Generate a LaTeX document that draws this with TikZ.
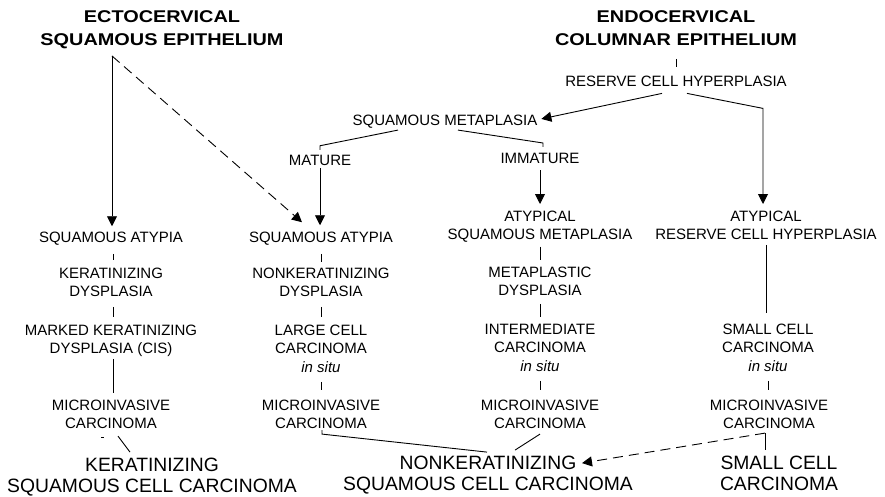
\documentclass[tikz,border=0pt]{standalone}
\usepackage{fontspec}
\setmainfont{Liberation Sans}
\newfontfamily\titlefont[FakeStretch=1.17]{Liberation Sans Bold}
\usetikzlibrary{arrows.meta,calc}
\newcommand\sts{\rule{0pt}{10.5pt}}
\newcommand\stt{\rule{0pt}{12.2pt}}
\newcommand\stb{\rule{0pt}{13.8pt}}
\tikzset{
  lbl/.style={inner sep=0pt, outer sep=0pt, anchor=north, align=center, font=\fontsize{15}{18.7}\selectfont},
  ttl/.style={inner sep=0pt, outer sep=0pt, anchor=north, align=center, font=\titlefont\fontsize{17}{23.3}\selectfont},
  big/.style={inner sep=0pt, outer sep=0pt, anchor=north, align=center, font=\fontsize{19.3}{21}\selectfont},
  conn/.style={line width=0.9pt},
  arr/.style={conn, -{Triangle[width=10pt,length=10pt]}},
  darr/.style={arr, dash pattern=on 10pt off 6pt},
}
\begin{document}
\begin{tikzpicture}[x=1pt,y=-1pt]
\fill[white] (0,0) rectangle (885,497);
\useasboundingbox (0,0) rectangle (885,497);

% titles
\node[ttl] (ecto) at (162,9.9) {\stt ECTOCERVICAL\\SQUAMOUS EPITHELIUM};
\node[ttl] (endo) at (676,9.9) {\stt ENDOCERVICAL\\COLUMNAR EPITHELIUM};

% upper labels
\node[lbl] (rch) at (676,75.75) {\sts RESERVE CELL HYPERPLASIA};
\node[lbl] (sm) at (445,114.75) {\sts SQUAMOUS METAPLASIA};
\node[lbl] (mat) at (320,154.75) {\sts MATURE};
\node[lbl] (imm) at (540,152.75) {\sts IMMATURE};

% row: atypia
\node[lbl] (sa1) at (111,231.75) {\sts SQUAMOUS ATYPIA};
\node[lbl] (sa2) at (321,231.75) {\sts SQUAMOUS ATYPIA};
\node[lbl] (asm3) at (540,210.75) {\sts ATYPICAL\\SQUAMOUS METAPLASIA};
\node[lbl] (arch4) at (766,210.75) {\sts ATYPICAL\\RESERVE CELL HYPERPLASIA};

% row: dysplasia
\node[lbl] (kd1) at (111,267.75) {\sts KERATINIZING\\DYSPLASIA};
\node[lbl] (nk2) at (321,267.75) {\sts NONKERATINIZING\\DYSPLASIA};
\node[lbl] (md3) at (540,266.75) {\sts METAPLASTIC\\DYSPLASIA};

% row: carcinoma in situ
\node[lbl] (mkd1) at (111,324.75) {\sts MARKED KERATINIZING\\DYSPLASIA (CIS)};
\node[lbl] (lc2) at (321,324.75) {\sts LARGE CELL\\CARCINOMA\\\textit{in situ}};
\node[lbl] (ic3) at (540,323.75) {\sts INTERMEDIATE\\CARCINOMA\\\textit{in situ}};
\node[lbl] (scc4) at (768,323.75) {\sts SMALL CELL\\CARCINOMA\\\textit{in situ}};

% row: microinvasive
\node[lbl] (mic1) at (111,399.75) {\sts MICROINVASIVE\\CARCINOMA};
\node[lbl] (mic2) at (321,399.75) {\sts MICROINVASIVE\\CARCINOMA};
\node[lbl] (mic3) at (540,399.75) {\sts MICROINVASIVE\\CARCINOMA};
\node[lbl] (mic4) at (769,399.75) {\sts MICROINVASIVE\\CARCINOMA};

% bottom
\node[big] (ksc) at (152,458.1) {\stb KERATINIZING\\SQUAMOUS CELL CARCINOMA};
\node[big] (nsc) at (488,456.1) {\stb NONKERATINIZING\\SQUAMOUS CELL CARCINOMA};
\node[big] (scs) at (779,456.1) {\stb SMALL CELL\\CARCINOMA};

% connectors: top
\draw[conn, shorten <=13.2pt, shorten >=8.75pt] (endo.south -| rch.north) -- (rch.north);
\draw[arr, shorten <=7.2pt, shorten >=5.5pt] ($(ecto.south -| sa1.north)+(1,0)$) -- ($(sa1.north)+(1,0)$);
\draw[darr] ($(ecto.south -| sa1.north)+(1,7.2)$) -- ($(sa2.north)+(-19,-9.5)$);
\draw[arr] ($(rch.south)+(-14,7)$) -- ($(sm.east)+(4,-2.5)$);
\coordinate (rchk) at ($(rch.south)+(87,22)$);
\draw[arr, shorten >=6.75pt] ($(rch.south)+(11,7)$) -- (rchk) -- (rchk |- arch4.north);
\draw[conn] ($(sm.south)+(-47,2)$) -- ($(mat.north)+(0,-9)$) -- ($(mat.north)+(0,-4.75)$);
\draw[conn] ($(sm.south)+(13,2)$) -- ($(imm.north)+(3,-9.75)$) -- ($(imm.north)+(3,-5.75)$);
\draw[arr, shorten <=3pt, shorten >=6.5pt] (mat.south) -- (mat.south |- sa2.north);
\draw[arr, shorten <=6.75pt, shorten >=6.75pt] (imm.south) -- (imm.south |- asm3.north);

% column 1
\draw[conn, shorten <=8.8pt, shorten >=7.7pt] ($(sa1.south)+(2,0)$) -- ($(kd1.north)+(2,0)$);
\draw[conn, shorten <=9.8pt, shorten >=7.7pt] ($(kd1.south)+(2,0)$) -- ($(mkd1.north)+(2,0)$);
\draw[conn, shorten <=1.8pt, shorten >=6.7pt] ($(mkd1.south)+(2,0)$) -- ($(mic1.north)+(2,0)$);
% column 2
\draw[conn, shorten <=8.8pt, shorten >=5.7pt] (sa2.south) -- (nk2.north);
\draw[conn, shorten <=9.8pt, shorten >=7.7pt] (nk2.south) -- (lc2.north);
\draw[conn, shorten <=9pt, shorten >=9.7pt] (lc2.south) -- (mic2.north);
% column 3
\draw[conn, shorten <=3.8pt, shorten >=6.7pt] (asm3.south) -- (md3.north);
\draw[conn, shorten <=7.8pt, shorten >=6.7pt] (md3.south) -- (ic3.north);
\draw[conn, shorten <=9pt, shorten >=9.7pt] (ic3.south) -- (mic3.north);
% column 4
\draw[conn, shorten <=4.8pt, shorten >=10.7pt] (arch4.south) -- (arch4.south |- scc4.north);
\draw[conn, shorten <=9pt, shorten >=9.7pt] (scc4.south) -- (scc4.south |- mic4.north);

% bottom connectors
\draw[conn] ($(mic1.south)+(7,7)$) -- ($(ksc.north)+(-22,-6)$);
\draw[conn] ($(mic1.south)+(-10,8)$) -- ($(mic1.south)+(-7,8)$);
\draw[conn] ($(mic2.south)+(1,1)$) -- ($(mic2.south)+(1,5)$) -- ($(nsc.north)+(-1,-4)$);
\draw[conn] ($(mic3.south)+(0,5)$) -- ($(nsc.north)+(27,-6)$);
\draw[darr] ($(mic4.south)+(-4,4)$) -- ($(nsc.north)+(94,7)$);
\draw[conn] ($(mic4.south)+(-4,4)$) -- ($(scs.north)+(-14,-6)$);
\end{tikzpicture}
\end{document}
